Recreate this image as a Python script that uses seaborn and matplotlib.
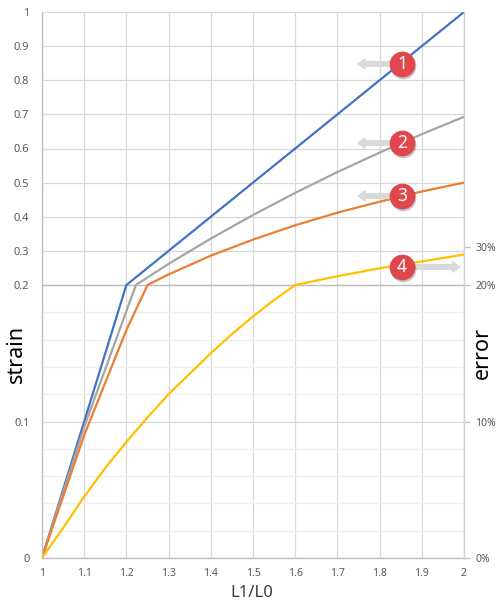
import numpy as np
import matplotlib
matplotlib.use('Agg')
import matplotlib.pyplot as plt
import matplotlib.transforms as mtransforms
from matplotlib.ticker import FixedLocator, FuncFormatter, PercentFormatter
import seaborn as sns

# ---- data (x = L1/L0) ----
# 1: engineering strain (left axis)
x_eng = [1.0, 1.1, 1.2, 1.3, 1.4, 1.5, 1.6, 1.7, 1.8, 1.9, 2.0]
eng = [0.0, 0.1, 0.2, 0.3, 0.4, 0.5, 0.6, 0.7, 0.8, 0.9, 1.0]
# 2: true strain (left axis)
x_true = [1.0, 1.1, 1.2225, 1.3, 1.4, 1.5, 1.6, 1.7, 1.8, 1.9, 2.0]
true = [0.0, 0.096, 0.2, 0.262, 0.336, 0.405, 0.47, 0.531, 0.588, 0.642, 0.693]
# 3: third strain measure (left axis)
x_comp = [1.0, 1.1, 1.2, 1.25, 1.3, 1.4, 1.5, 1.6, 1.7, 1.8, 1.9, 2.0]
comp = [0.0, 0.09, 0.167, 0.2, 0.231, 0.286, 0.333, 0.375, 0.412, 0.444,
        0.474, 0.5]
# 4: error (right axis)
x_err = [1.0, 1.05, 1.1, 1.15, 1.2, 1.25, 1.3, 1.35, 1.4, 1.45, 1.5, 1.55,
         1.6, 1.7, 1.8, 1.9, 2.0]
err = [0.0, 0.022, 0.045, 0.066, 0.085, 0.103, 0.12, 0.135, 0.15, 0.164,
       0.177, 0.189, 0.2, 0.223, 0.244, 0.262, 0.28]

# badges: number, y (left-axis units), arrow tip x
badge_nums = ['1', '2', '3', '4']
badge_y = [0.848, 0.616, 0.461, 0.253]
badge_tip = [1.749, 1.749, 1.749, 1.99]
badge_x = 1.853

# colours
c_blue, c_gray, c_orange, c_yellow = '#4472C4', '#A5A5A5', '#ED7D31', '#FFC000'
c_badge = '#E0474C'
c_grid = '#D9D9D9'
c_tick = '#595959'

sns.set_style('white')
plt.rcParams['font.family'] = ['Noto Sans', 'DejaVu Sans']

# split scales: lower half 0..0.2, upper half 0.2..top
BRK = 0.2
TOP_L = 1.0
TOP_R = 0.918


def make_scale(top):
    def fwd(y):
        y = np.asarray(y, dtype=float)
        return np.where(y <= BRK, y / BRK * 0.5,
                        0.5 + (y - BRK) / (top - BRK) * 0.5)

    def inv(t):
        t = np.asarray(t, dtype=float)
        return np.where(t <= 0.5, t / 0.5 * BRK,
                        BRK + (t - 0.5) / 0.5 * (top - BRK))
    return fwd, inv


fig = plt.figure(figsize=(4.99, 6.03), dpi=100)
ax = fig.add_axes([42 / 499, 1 - 558 / 603, 422 / 499, 546 / 603])
ax.set_yscale('function', functions=make_scale(TOP_L))

lw = 1.6
sns.lineplot(x=x_eng, y=eng, ax=ax, color=c_blue, lw=lw, sort=False,
             estimator=None)
sns.lineplot(x=x_true, y=true, ax=ax, color=c_gray, lw=lw, sort=False,
             estimator=None)
sns.lineplot(x=x_comp, y=comp, ax=ax, color=c_orange, lw=lw, sort=False,
             estimator=None)

ax.set_xlim(1, 2)
ax.set_ylim(0, TOP_L)
ax.xaxis.set_major_locator(FixedLocator(np.round(np.arange(1, 2.01, 0.1), 1)))
ax.xaxis.set_major_formatter(FuncFormatter(lambda v, p: '%g' % round(v, 2)))
ax.yaxis.set_major_locator(FixedLocator(np.round(np.arange(0, 1.01, 0.1), 1)))
ax.yaxis.set_minor_locator(FixedLocator([0.02, 0.04, 0.06, 0.08,
                                         0.12, 0.14, 0.16, 0.18]))
ax.yaxis.set_major_formatter(FuncFormatter(lambda v, p: '%g' % round(v, 2)))
ax.grid(which='major', color=c_grid, lw=0.9)
ax.grid(which='minor', axis='y', color='#EFEFEF', lw=0.9)
ax.axhline(BRK, color='#BFBFBF', lw=1.0, zorder=1.5)
ax.tick_params(axis='y', which='both', length=0, pad=9, labelsize=8,
               labelcolor=c_tick)
ax.tick_params(axis='x', which='both', length=0, pad=7, labelsize=7.5,
               labelcolor=c_tick)
ax.set_xlabel('')
ax.set_ylabel('')
for side in ['top', 'right']:
    ax.spines[side].set_visible(False)
for side in ['left', 'bottom']:
    ax.spines[side].set_color('#BFBFBF')
    ax.spines[side].set_linewidth(1.0)

# right axis (error)
ax2 = ax.twinx()
ax2.set_yscale('function', functions=make_scale(TOP_R))
sns.lineplot(x=x_err, y=err, ax=ax2, color=c_yellow, lw=lw, sort=False,
             estimator=None)
ax2.set_ylim(0, TOP_R)
ax2.set_xlim(1, 2)
ax2.yaxis.set_major_locator(FixedLocator([0, 0.1, 0.2, 0.3]))
ax2.yaxis.set_minor_locator(FixedLocator([]))
ax2.yaxis.set_major_formatter(PercentFormatter(1.0, decimals=0))
ax2.tick_params(axis='y', length=4, width=0.9, color='#BFBFBF', pad=4,
                labelsize=7.5, labelcolor=c_tick)
ax2.set_ylabel('')
ax2.set_xlabel('')
for side in ['top', 'left', 'bottom']:
    ax2.spines[side].set_visible(False)
ax2.spines['right'].set_color('#D0D0D0')
ax2.spines['right'].set_linewidth(1.0)

# numbered badges with arrows
shadow = mtransforms.offset_copy(ax.transData, fig=fig, x=0.8, y=-1.2,
                                 units='points')
for num, by, tip in zip(badge_nums, badge_y, badge_tip):
    ax2.annotate('', xy=(tip, by), xytext=(badge_x, by),
                 xycoords=ax.transData, textcoords=ax.transData,
                 arrowprops=dict(arrowstyle='simple,head_length=0.5,'
                                 'head_width=0.75,tail_width=0.33',
                                 color='#D9D9D9', shrinkA=0, shrinkB=0,
                                 mutation_scale=10),
                 zorder=4)
    ax2.plot([badge_x], [by], marker='o', ms=18.5, mfc=(0, 0, 0, 0.22),
             mec='none', transform=shadow, zorder=5, clip_on=False)
    ax2.plot([badge_x], [by], marker='o', ms=18.5, mfc=c_badge, mec='none',
             transform=ax.transData, zorder=6, clip_on=False)
    ax2.text(badge_x, by, num, transform=ax.transData, color='white',
             ha='center', va='center', fontsize=12.5, zorder=7)

# axis titles
fig.text(16 / 499, 1 - 354 / 603, 'strain', rotation=90, ha='center',
         va='center', fontsize=15.5, color='black')
fig.text(482 / 499, 1 - 353 / 603, 'error', rotation=90, ha='center',
         va='center', fontsize=15.5, color='black')
fig.text(251.5 / 499, 1 - 593 / 603, 'L1/L0', ha='center', va='center',
         fontsize=12, color='#3a3a3a')

fig.savefig('out.png', dpi=100)
